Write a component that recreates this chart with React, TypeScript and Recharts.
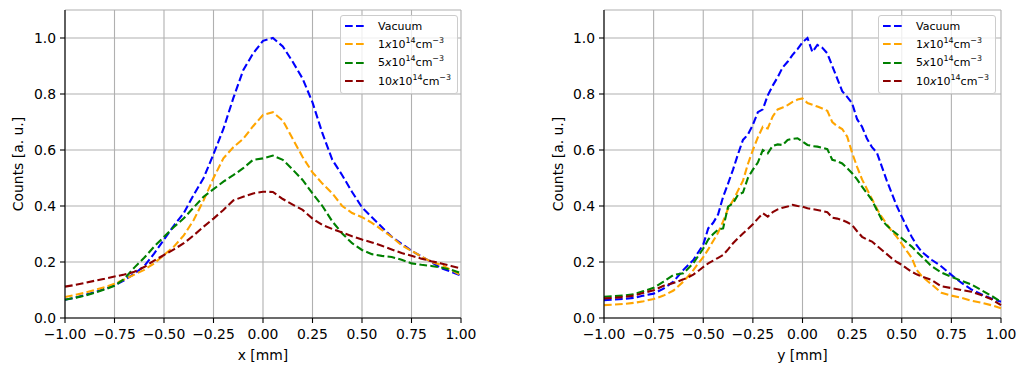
import { LineChart, Line, XAxis, YAxis, CartesianGrid, Legend } from "recharts";

const FONT = "DejaVu Sans";
const CSS_FONT = '"DejaVu Sans", sans-serif';
const X_TICKS = [-1, -0.75, -0.5, -0.25, 0, 0.25, 0.5, 0.75, 1];
const Y_TICKS = [0, 0.2, 0.4, 0.6, 0.8, 1.0];

// left panel: x profile
const leftX = [
  -1, -0.95, -0.9, -0.85, -0.8, -0.75, -0.7, -0.65, -0.6, -0.55, -0.5, -0.45, -0.4, -0.35,
  -0.3, -0.25, -0.2, -0.15, -0.1, -0.05, 0, 0.05, 0.1, 0.15, 0.2, 0.25, 0.3, 0.35, 0.4,
  0.45, 0.5, 0.55, 0.6, 0.65, 0.7, 0.75, 0.8, 0.85, 0.9, 0.95, 1,
];
const leftVacuum = [
  0.065, 0.072, 0.082, 0.092, 0.104, 0.117, 0.135, 0.158, 0.185, 0.23, 0.28, 0.33, 0.375, 0.44,
  0.5, 0.585, 0.675, 0.785, 0.885, 0.945, 0.99, 1.0, 0.97, 0.915, 0.855, 0.77, 0.66, 0.565, 0.51,
  0.45, 0.395, 0.36, 0.325, 0.29, 0.265, 0.24, 0.22, 0.2, 0.178, 0.165, 0.152,
];
const leftN1 = [
  0.075, 0.082, 0.09, 0.1, 0.11, 0.122, 0.138, 0.155, 0.172, 0.195, 0.225, 0.255, 0.295, 0.35,
  0.42, 0.5, 0.57, 0.61, 0.64, 0.685, 0.725, 0.735, 0.705, 0.64, 0.575, 0.52, 0.48, 0.445, 0.4,
  0.375, 0.36, 0.34, 0.315, 0.29, 0.26, 0.24, 0.22, 0.2, 0.19, 0.172, 0.152,
];
const leftN5 = [
  0.065, 0.072, 0.08, 0.09, 0.102, 0.115, 0.14, 0.18, 0.215, 0.255, 0.29, 0.325, 0.356, 0.395,
  0.433, 0.46, 0.487, 0.51, 0.535, 0.565, 0.57, 0.58, 0.565, 0.53, 0.493, 0.445, 0.4, 0.345, 0.302,
  0.267, 0.243, 0.228, 0.222, 0.218, 0.208, 0.195, 0.19, 0.186, 0.18, 0.172, 0.16,
];
const leftN10 = [
  0.112, 0.118, 0.125, 0.133, 0.14, 0.148, 0.155, 0.165, 0.182, 0.205, 0.225, 0.245, 0.267, 0.295,
  0.326, 0.355, 0.386, 0.42, 0.433, 0.445, 0.451, 0.45, 0.425, 0.405, 0.386, 0.355, 0.332, 0.318, 0.305,
  0.292, 0.28, 0.27, 0.258, 0.245, 0.232, 0.222, 0.212, 0.203, 0.195, 0.186, 0.177,
];

// right panel: y profile (finer steps in the centre)
const rightX = [
  -1, -0.95, -0.9, -0.85, -0.8, -0.75, -0.7, -0.65, -0.6,
  -0.575, -0.55, -0.525, -0.5, -0.475, -0.45, -0.425, -0.4, -0.375, -0.35, -0.325, -0.3, -0.275, -0.25,
  -0.225, -0.2, -0.175, -0.15, -0.125, -0.1, -0.075, -0.05, -0.025, 0, 0.025, 0.05, 0.075, 0.1, 0.125,
  0.15, 0.175, 0.2, 0.225, 0.25, 0.275, 0.3, 0.325, 0.35, 0.375, 0.4, 0.425, 0.45, 0.475, 0.5, 0.525,
  0.55, 0.575,
  0.6, 0.65, 0.7, 0.75, 0.8, 0.85, 0.9, 0.95, 1,
];
const rightVacuum = [
  0.064, 0.066, 0.068, 0.072, 0.08, 0.087, 0.105, 0.13, 0.172,
  0.19, 0.207, 0.235, 0.262, 0.32, 0.34, 0.37, 0.433, 0.48, 0.53, 0.585, 0.636, 0.655, 0.69,
  0.735, 0.745, 0.795, 0.83, 0.86, 0.895, 0.915, 0.94, 0.96, 0.985, 1.0, 0.95, 0.975, 0.965, 0.945,
  0.9, 0.855, 0.81, 0.79, 0.767, 0.71, 0.683, 0.64, 0.61, 0.59, 0.54, 0.49, 0.445, 0.4, 0.362, 0.325,
  0.29, 0.26,
  0.237, 0.208, 0.184, 0.154, 0.126, 0.102, 0.085, 0.07, 0.058,
];
const rightN1 = [
  0.046, 0.048, 0.05, 0.054, 0.06, 0.068, 0.08, 0.098, 0.13,
  0.15, 0.171, 0.195, 0.217, 0.245, 0.275, 0.305, 0.345, 0.39, 0.42, 0.455, 0.49, 0.55, 0.6,
  0.645, 0.683, 0.677, 0.72, 0.745, 0.752, 0.76, 0.772, 0.78, 0.784, 0.768, 0.762, 0.755, 0.748, 0.74,
  0.7, 0.685, 0.675, 0.648, 0.59, 0.54, 0.495, 0.46, 0.425, 0.39, 0.36, 0.335, 0.31, 0.29, 0.265, 0.24,
  0.215, 0.172,
  0.15, 0.12, 0.09, 0.08, 0.072, 0.062, 0.055, 0.046, 0.035,
];
const rightN5 = [
  0.076, 0.078, 0.08, 0.085, 0.096, 0.108, 0.13, 0.154, 0.16,
  0.178, 0.196, 0.222, 0.248, 0.28, 0.3, 0.316, 0.32, 0.398, 0.41, 0.44, 0.448, 0.5, 0.53,
  0.555, 0.6, 0.588, 0.615, 0.62, 0.618, 0.636, 0.64, 0.642, 0.63, 0.618, 0.614, 0.612, 0.608, 0.603,
  0.565, 0.56, 0.552, 0.535, 0.517, 0.495, 0.469, 0.445, 0.421, 0.385, 0.35, 0.33, 0.314, 0.3, 0.285, 0.27,
  0.255, 0.237,
  0.22, 0.185, 0.162, 0.147, 0.133, 0.12, 0.1, 0.08, 0.058,
];
const rightN10 = [
  0.07, 0.072, 0.075, 0.08, 0.09, 0.099, 0.115, 0.125, 0.138,
  0.146, 0.155, 0.168, 0.182, 0.195, 0.205, 0.215, 0.225, 0.245, 0.267, 0.285, 0.302, 0.318, 0.335,
  0.355, 0.374, 0.362, 0.378, 0.388, 0.394, 0.398, 0.404, 0.4, 0.398, 0.392, 0.389, 0.386, 0.382, 0.378,
  0.358, 0.355, 0.35, 0.342, 0.332, 0.31, 0.29, 0.28, 0.273, 0.258, 0.243, 0.228, 0.213, 0.2, 0.19, 0.177,
  0.165, 0.156,
  0.148, 0.136, 0.113, 0.107, 0.1, 0.094, 0.082, 0.068, 0.046,
];

const SERIES = [
  { key: "vacuum", color: "#0000ff" },
  { key: "n1", color: "#ffa500" },
  { key: "n5", color: "#008000" },
  { key: "n10", color: "#8b0000" },
];

const sup = { fontSize: "0.72em", verticalAlign: "super", lineHeight: 0 } as const;
const density = (n: string) => (
  <span>
    {n}
    <i>x</i>10<span style={sup}>14</span>cm<span style={sup}>{"\u22123"}</span>
  </span>
);
const LABELS = [<span>Vacuum</span>, density("1"), density("5"), density("10")];

function buildRows(xs: number[], a: number[], b: number[], c: number[], d: number[]) {
  return xs.map((x, i) => ({ x, vacuum: a[i], n1: b[i], n5: c[i], n10: d[i] }));
}

const leftData = buildRows(leftX, leftVacuum, leftN1, leftN5, leftN10);
const rightData = buildRows(rightX, rightVacuum, rightN1, rightN5, rightN10);

const fmtX = (v: number) => v.toFixed(2).replace("-", "\u2212");
const fmtY = (v: number) => v.toFixed(1);

const tickStyle = { fontSize: 13.9, fill: "#000", fontFamily: FONT };

function LegendBox() {
  return (
    <div
      style={{
        background: "rgba(255,255,255,0.8)",
        border: "1px solid #cccccc",
        borderRadius: 3,
        padding: "1px 6px 3px 4px",
        fontFamily: CSS_FONT,
        fontSize: 11,
        color: "#000",
      }}
    >
      {SERIES.map((s, i) => (
        <div key={s.key} style={{ display: "flex", alignItems: "center", height: 18.3, whiteSpace: "nowrap" }}>
          <svg width={22} height={4} style={{ flex: "none" }}>
            <line x1={0} y1={2} x2={22} y2={2} stroke={s.color} strokeWidth={2.1} strokeDasharray="7.7 3.3" />
          </svg>
          <span style={{ marginLeft: 11 }}>{LABELS[i]}</span>
        </div>
      ))}
    </div>
  );
}

interface PanelProps {
  data: any[];
  xLabel: string;
  width: number;
  yAxisWidth: number;
  marginRight: number;
  legendRight: number;
}

function Panel({ data, xLabel, width, yAxisWidth, marginRight, legendRight }: PanelProps) {
  return (
    <LineChart width={width} height={367} data={data} margin={{ top: 10, right: marginRight, bottom: 0, left: 0 }}>
      <CartesianGrid stroke="#b0b0b0" strokeWidth={1.1} />
      <XAxis
        dataKey="x"
        type="number"
        domain={[-1, 1]}
        ticks={X_TICKS}
        tickFormatter={fmtX}
        height={49}
        tickSize={5}
        tickMargin={6}
        tick={tickStyle}
        axisLine={{ stroke: "#000", strokeWidth: 1.1 }}
        tickLine={{ stroke: "#000", strokeWidth: 1.1 }}
        interval={0}
        label={{
          content: ({ viewBox }: any) => (
            <text
              x={viewBox.x + viewBox.width / 2}
              y={viewBox.y + 42}
              textAnchor="middle"
              fontSize={13.9}
              fontFamily={FONT}
              fill="#000"
            >
              {xLabel}
            </text>
          ),
        }}
      />
      <XAxis
        xAxisId="top"
        orientation="top"
        dataKey="x"
        type="number"
        domain={[-1, 1]}
        height={0}
        tick={false}
        tickLine={false}
        axisLine={{ stroke: "#000", strokeWidth: 1.1 }}
      />
      <YAxis
        type="number"
        domain={[0, 1.1]}
        ticks={Y_TICKS}
        tickFormatter={fmtY}
        width={yAxisWidth}
        tickSize={5}
        tickMargin={4}
        tick={tickStyle}
        axisLine={{ stroke: "#000", strokeWidth: 1.1 }}
        tickLine={{ stroke: "#000", strokeWidth: 1.1 }}
        interval={0}
        label={{
          content: ({ viewBox }: any) => {
            const cx = viewBox.x + 18;
            const cy = viewBox.y + viewBox.height / 2;
            return (
              <text
                x={cx}
                y={cy}
                transform={`rotate(-90 ${cx} ${cy})`}
                textAnchor="middle"
                dominantBaseline="central"
                fontSize={13.9}
                fontFamily={FONT}
                fill="#000"
              >
                Counts [a. u.]
              </text>
            );
          },
        }}
      />
      <YAxis
        yAxisId="right"
        orientation="right"
        type="number"
        domain={[0, 1.1]}
        width={0}
        tick={false}
        tickLine={false}
        axisLine={{ stroke: "#000", strokeWidth: 1.1 }}
      />
      {SERIES.map((s) => (
        <Line
          key={s.key}
          type="linear"
          dataKey={s.key}
          stroke={s.color}
          strokeWidth={2.1}
          strokeDasharray="7.7 3.3"
          dot={false}
          activeDot={false}
          isAnimationActive={false}
        />
      ))}
      <Legend
        layout="vertical"
        align="center"
        verticalAlign="middle"
        content={() => <LegendBox />}
        wrapperStyle={{ top: 15, right: legendRight, left: "auto", width: "auto" }}
      />
    </LineChart>
  );
}

export default function App() {
  return (
    <div style={{ position: "absolute", left: 0, top: 0, width: 1019, height: 367, background: "#fff" }}>
      <div style={{ position: "absolute", left: 0, top: 0 }}>
        <Panel data={leftData} xLabel="x [mm]" width={500} yAxisWidth={65} marginRight={39} legendRight={42} />
      </div>
      <div style={{ position: "absolute", left: 540, top: 0 }}>
        <Panel data={rightData} xLabel="y [mm]" width={479} yAxisWidth={64} marginRight={18} legendRight={23} />
      </div>
    </div>
  );
}
